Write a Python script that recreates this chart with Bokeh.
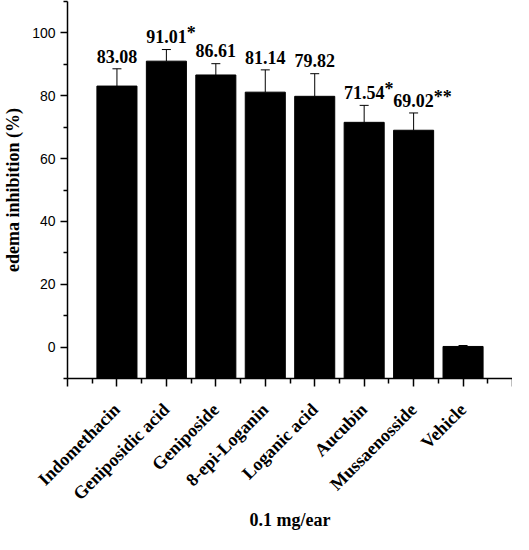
from math import pi

from bokeh.core.properties import value
from bokeh.embed import file_html
from bokeh.models import ColumnDataSource, FixedTicker, Range1d, TeeHead, Whisker
from bokeh.plotting import figure
from bokeh.resources import INLINE

# values
compounds = ["Indomethacin", "Geniposidic acid", "Geniposide", "8-epi-Loganin",
             "Loganic acid", "Aucubin", "Mussaenosside", "Vehicle"]
inhibition = [83.08, 91.01, 86.61, 81.14, 79.82, 71.54, 69.02, 0.2]
sd = [5.5, 3.7, 3.6, 7.1, 7.2, 5.4, 5.5, 0.3]
bar_labels = ["83.08", "91.01*", "86.61", "81.14", "79.82", "71.54*", "69.02**", ""]
y_ticks = [0, 20, 40, 60, 80, 100]
y_minor = [-10, 10, 30, 50, 70, 90, 110]

serif = "Liberation Serif"
sans = "Liberation Sans"
label_size = 18

pos = list(range(1, len(compounds) + 1))
upper = [v + e for v, e in zip(inhibition, sd)]
y_start, y_end = -10, 110

# number centred on the bar, significance stars trailing after it
numbers = [s.rstrip("*") for s in bar_labels]
stars = [s[len(n):] for s, n in zip(bar_labels, numbers)]

source = ColumnDataSource(data={
    "x": pos,
    "top": inhibition,
    "upper": upper,
    "label_y": [u + 2.0 for u in upper],
    "number": numbers,
    "stars": stars,
})

p = figure(width=512, height=532, output_backend="svg", toolbar_location=None, tools="",
           x_range=Range1d(0, len(compounds) + 1), y_range=Range1d(y_start, y_end),
           min_border_left=62, min_border_right=0, min_border_top=1, min_border_bottom=153)

p.vbar(x="x", top="top", bottom=y_start, width=0.81, source=source,
       fill_color="black", line_color="black")

err = Whisker(base="x", lower="top", upper="upper", source=source, dimension="height",
              line_color="black", line_width=1,
              upper_head=TeeHead(size=9, line_color="black", line_width=1),
              lower_head=None)
p.add_layout(err)

text_style = dict(text_font=value(serif), text_font_style="bold",
                  text_font_size=f"{label_size}px", text_color="black",
                  text_baseline="bottom")
p.text(x="x", y="label_y", text="number", source=source, text_align="center", **text_style)
# half the width of a "00.00" number in a bold Times face
p.text(x="x", y="label_y", text="stars", source=source, text_align="left",
       x_offset=label_size * 2.25 / 2, **text_style)

# x axis: compound names at the bars, minor ticks between
p.xaxis.ticker = FixedTicker(ticks=list(range(0, len(compounds) + 2)),
                             minor_ticks=[i + 0.5 for i in range(0, len(compounds) + 1)])
overrides = {0: "", len(compounds) + 1: ""}
overrides.update({i: name for i, name in zip(pos, compounds)})
p.xaxis.major_label_overrides = overrides
p.xaxis.major_label_orientation = pi / 4
p.xaxis.major_label_text_font = serif
p.xaxis.major_label_text_font_style = "bold"
p.xaxis.major_label_text_font_size = "18px"
p.xaxis.major_label_standoff = 20
p.xaxis.major_tick_out = 8
p.xaxis.minor_tick_out = 5
p.xaxis.axis_label = "0.1 mg/ear"
p.xaxis.axis_label_standoff = -4

p.yaxis.ticker = FixedTicker(ticks=y_ticks, minor_ticks=y_minor)
p.yaxis.major_label_text_font = sans
p.yaxis.major_label_text_font_size = "14px"
p.yaxis.major_label_standoff = 5
p.yaxis.major_tick_out = 7
p.yaxis.minor_tick_out = 4
p.yaxis.axis_label = "edema inhibition (%)"
p.yaxis.axis_label_standoff = 6

for ax in (p.xaxis, p.yaxis):
    ax.major_tick_in = 0
    ax.minor_tick_in = 0
    ax.axis_line_width = 1.5
    ax.major_tick_line_width = 1.5
    ax.minor_tick_line_width = 1.5
    ax.axis_line_color = "black"
    ax.major_tick_line_color = "black"
    ax.minor_tick_line_color = "black"
    ax.major_label_text_color = "black"
    ax.axis_label_text_font = serif
    ax.axis_label_text_font_style = "bold"
    ax.axis_label_text_font_size = "18px"
    ax.axis_label_text_color = "black"

p.xgrid.visible = False
p.ygrid.visible = False
p.outline_line_color = None

open("out.html", "w").write(file_html(p, INLINE))
